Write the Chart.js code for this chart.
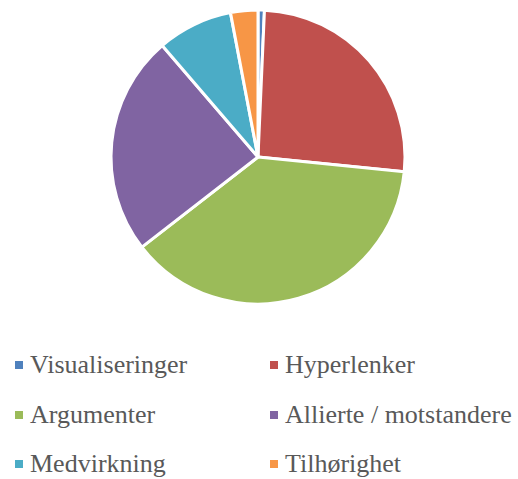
<!DOCTYPE html>
<html>
<head>
<meta charset="utf-8">
<script src="https://cdn.jsdelivr.net/npm/chart.js@4"></script>
<style>
  body { margin: 0; background: #fff; width: 518px; height: 479px; position: relative; overflow: hidden; }
  #wrap { position: absolute; left: 0; top: 0; width: 516px; height: 314px; }
  .item { position: absolute; font-family: "Liberation Serif", serif; font-size: 26px; color: #595959; line-height: 26px; white-space: nowrap; }
  .box { position: absolute; width: 8px; height: 8px; }
  .txt { position: absolute; }
</style>
</head>
<body>
<div id="wrap"><canvas id="myChart"></canvas></div>
<div id="legend"></div>
<script>
// andel av svarene (prosent, lest av figuren)
const kategorier = ['Visualiseringer', 'Hyperlenker', 'Argumenter', 'Allierte / motstandere', 'Medvirkning', 'Tilhørighet']
const verdier = [0.7, 25.9, 37.9, 24.2, 8.3, 3.0]
const farger = ['#4F81BD', '#C0504D', '#9BBB59', '#8064A2', '#4BACC6', '#F79646']

const ctx = document.getElementById('myChart')
new Chart(ctx, {
    type: 'pie',
    data: {
        labels: kategorier,
        datasets: [{
            data: verdier,
            backgroundColor: farger,
            borderColor: '#ffffff',
            borderWidth: 3,
            radius: 147
        }]
    },
    options: {
        responsive: true,
        maintainAspectRatio: false,
        animation: false,
        layout: { padding: 0 },
        plugins: {
            legend: { display: false },
            tooltip: { enabled: false }
        }
    }
})

// forklaring i to kolonner
const legend = document.getElementById('legend')
kategorier.forEach((navn, i) => {
    const col = i % 2
    const row = Math.floor(i / 2)
    const x = col === 0 ? 15 : 270
    const y = 361 + row * 49.5
    const item = document.createElement('div')
    item.className = 'item'
    item.style.left = x + 'px'
    item.style.top = y + 'px'
    const box = document.createElement('span')
    box.className = 'box'
    box.style.background = farger[i]
    box.style.left = '0px'
    box.style.top = '0px'
    const txt = document.createElement('span')
    txt.className = 'txt'
    txt.textContent = navn
    txt.style.left = '15px'
    txt.style.top = '-9px'
    item.appendChild(box)
    item.appendChild(txt)
    legend.appendChild(item)
})
</script>
</body>
</html>
